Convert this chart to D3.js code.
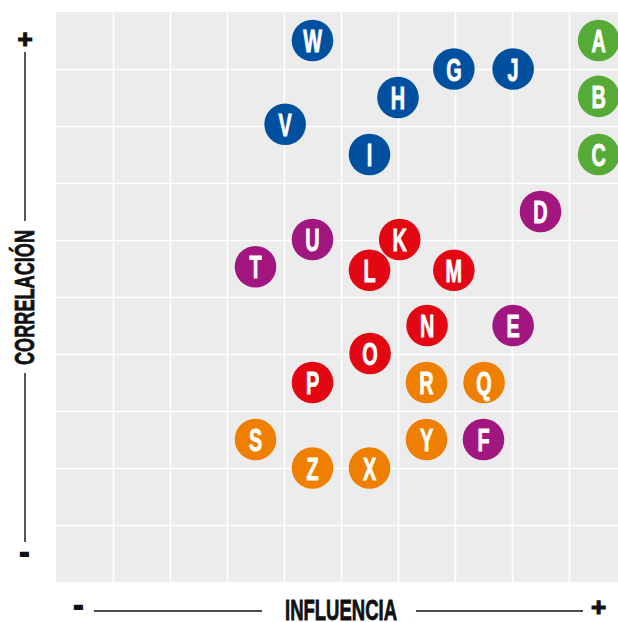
<!DOCTYPE html>
<html lang="es">
<head>
<meta charset="utf-8">
<title>Influencia / Correlación</title>
<script src="https://cdn.jsdelivr.net/npm/d3@7"></script>
<style>
  body { margin: 0; background: #fff; }
  svg { display: block; }
  .grid line { stroke: #fff; stroke-width: 1.6; }
  .grid .domain { display: none; }
  .grid text { display: none; }
  .lbl { font-family: "Liberation Sans", Arial, sans-serif; font-weight: bold; fill: #111; }
</style>
</head>
<body>
<div id="chart"></div>
<script>
  // letras y posicion (influencia, correlacion) en escala 0-10
  const letters   = ["A","B","C","D","E","F","G","H","I","J","K","L","M","N","O","P","Q","R","S","T","U","V","W","X","Y","Z"];
  const influence = [9.52,9.52,9.52,8.5,8.02,7.5,6.98,6.0,5.5,8.02,6.03,5.5,6.98,6.51,5.51,4.5,7.51,6.5,3.5,3.5,4.5,4.02,4.5,5.5,6.5,4.5];
  const correl    = [9.5,8.52,7.5,6.5,4.5,2.5,9.0,8.5,7.5,9.0,6.01,5.47,5.47,4.5,4.01,3.5,3.5,3.5,2.5,5.53,6.01,8.03,9.5,2.0,2.5,2.0];
  const group     = ["g","g","g","p","p","p","b","b","b","b","r","r","r","r","r","r","o","o","o","p","p","b","b","o","o","o"];
  const gridTicks = [1,2,3,4,5,6,7,8,9];

  const colors = { g: "#55ab35", b: "#0050a0", p: "#a2177f", r: "#e30613", o: "#ef7f00" };

  const width = 618, height = 622;
  const x0 = 56, y0 = 12, side = 570;

  const svg = d3.select("#chart").append("svg")
    .attr("width", width)
    .attr("height", height);

  const x = d3.scaleLinear().domain([0, 10]).range([x0, x0 + side]);
  const y = d3.scaleLinear().domain([0, 10]).range([y0 + side, y0]);

  svg.append("defs").append("clipPath").attr("id", "clip")
    .append("rect").attr("x", x0).attr("y", y0).attr("width", side).attr("height", side);

  const plot = svg.append("g").attr("clip-path", "url(#clip)");

  plot.append("rect")
    .attr("x", x0).attr("y", y0)
    .attr("width", side).attr("height", side)
    .attr("fill", "#ececec");

  // rejilla
  plot.append("g")
    .attr("class", "grid")
    .attr("transform", `translate(0,${y0 + side})`)
    .call(d3.axisBottom(x).tickValues(gridTicks).tickSize(-side));

  plot.append("g")
    .attr("class", "grid")
    .attr("transform", `translate(${x0},0)`)
    .call(d3.axisLeft(y).tickValues(gridTicks).tickSize(-side));

  const pts = letters.map((l, i) => ({ l, x: influence[i], y: correl[i], c: colors[group[i]] }));

  const node = plot.selectAll("g.pt")
    .data(pts)
    .enter().append("g")
    .attr("class", "pt")
    .attr("transform", d => `translate(${x(d.x)},${y(d.y)})`);

  node.append("circle")
    .attr("r", 20.8)
    .attr("fill", d => d.c);

  node.append("text")
    .attr("class", "lbl")
    .attr("text-anchor", "middle")
    .attr("transform", "translate(0,11.5) scale(0.62,1)")
    .attr("font-size", 32)
    .style("fill", "#fff")
    .attr("stroke", "#fff")
    .attr("stroke-width", 0.9)
    .text(d => d.l);

  // ejes decorativos
  const ink = "#111";
  svg.append("line").attr("x1", 25).attr("x2", 25).attr("y1", 52).attr("y2", 221).attr("stroke", ink).attr("stroke-width", 1.4);
  svg.append("line").attr("x1", 25).attr("x2", 25).attr("y1", 373).attr("y2", 542).attr("stroke", ink).attr("stroke-width", 1.4);
  svg.append("line").attr("x1", 94).attr("x2", 262).attr("y1", 611).attr("y2", 611).attr("stroke", ink).attr("stroke-width", 1.4);
  svg.append("line").attr("x1", 416).attr("x2", 583).attr("y1", 611).attr("y2", 611).attr("stroke", ink).attr("stroke-width", 1.4);

  svg.append("text")
    .attr("class", "lbl")
    .attr("transform", "translate(33.5,297.5) rotate(-90)")
    .attr("text-anchor", "middle")
    .attr("font-size", 27)
    .attr("textLength", 135)
    .attr("lengthAdjust", "spacingAndGlyphs")
    .attr("stroke", ink)
    .attr("stroke-width", 0.8)
    .text("CORRELACIÓN");

  svg.append("text")
    .attr("class", "lbl")
    .attr("x", 285).attr("y", 619.5)
    .attr("font-size", 29)
    .attr("textLength", 112)
    .attr("lengthAdjust", "spacingAndGlyphs")
    .attr("stroke", ink)
    .attr("stroke-width", 0.8)
    .text("INFLUENCIA");

  const signs = [
    { t: "+", x: 25, y: 38 },
    { t: "+", x: 598.5, y: 606.5 },
    { t: "-", x: 24.5, y: 555.5 },
    { t: "-", x: 78.5, y: 608.5 }
  ];
  svg.selectAll("text.sign")
    .data(signs)
    .enter().append("text")
    .attr("class", "lbl sign")
    .attr("text-anchor", "middle")
    .attr("x", d => d.x)
    .attr("y", d => d.t === "+" ? d.y + 9.5 : d.y + 6.5)
    .attr("font-size", d => d.t === "+" ? 26 : 28)
    .attr("stroke", ink)
    .attr("stroke-width", d => d.t === "+" ? 1.2 : 2)
    .text(d => d.t);
</script>
</body>
</html>
